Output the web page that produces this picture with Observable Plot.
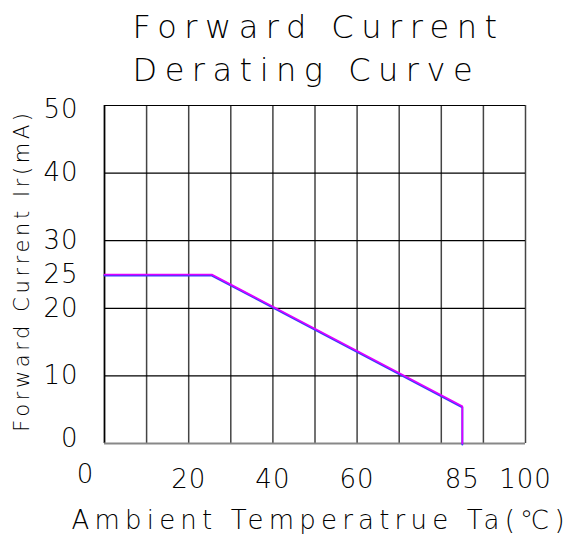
<!DOCTYPE html>
<html><head><meta charset="utf-8">
<script src="https://cdn.jsdelivr.net/npm/d3@7"></script>
<script src="https://cdn.jsdelivr.net/npm/@observablehq/plot@0.6"></script>
<style>
body{margin:0;background:#fff;}
svg text{font-family:"DejaVu Sans";font-weight:200;}
</style>
</head><body><div id="c"></div>
<script>
const temps = [0, 25.5, 85, 85];
const currents = [25, 25, 5.5, 0];
const gridX = [0,10,20,30,40,50,60,70,80,90,100];
const gridY = [0,10,20,30,40,50];
const xTicks = [20,40,60,85,100];
const yTicks = [10,20,25,30,40];
const titleLines = ["Forward Current","Derating Curve"];
const xLabel = "Ambient Temperatrue Ta(℃)";
const yLabel = "Forward Current Ir(mA)";

const pts = temps.map((t,i)=>({t, c: currents[i]}));

const chart = Plot.plot({
  width: 571, height: 536,
  marginLeft: 104, marginRight: 46, marginTop: 105, marginBottom: 93,
  x: {domain:[0,100], axis:null},
  y: {domain:[0,50], axis:null},
  marks: [
    Plot.ruleX(gridX, {x: d=>d, stroke: "#444", strokeWidth: 1.5}),
    Plot.ruleY(gridY, {y: d=>d, stroke: "#000", strokeWidth: 1.2}),
    Plot.ruleX([0], {stroke:"#000", strokeWidth:1.5}),
    Plot.ruleY([0], {stroke:"#888", strokeWidth:2}),
    Plot.line(pts, {x:"t", y:"c", stroke:"#3a3aff", strokeWidth:2, dy:1}),
    Plot.line(pts, {x:"t", y:"c", stroke:"#e000ff", strokeWidth:1.6}),
    Plot.text(yTicks, {x:0, y:d=>d, text:d=>String(d), textAnchor:"end", dx:-26, fontSize:26, fill:"#000"}),
    Plot.text([50], {x:0, y:d=>d, text:d=>String(d), textAnchor:"end", dx:-26, dy:4, fontSize:26, fill:"#000"}),
    Plot.text([0], {x:0, y:d=>d, text:d=>String(d), textAnchor:"end", dx:-26, dy:-5, fontSize:26, fill:"#000"}),
    Plot.text(xTicks, {x:d=>d, y:0, text:d=>String(d), dy:36, fontSize:26, fill:"#000"}),
    Plot.text([0], {x:0, y:0, text:d=>String(d), dx:-19, dy:31, fontSize:26, fill:"#000"}),
    Plot.text([titleLines[0]], {frameAnchor:"top-left", text:d=>d, dx:28, dy:-90, fontSize:32, textAnchor:"start", fill:"#000"}),
    Plot.text([titleLines[1]], {frameAnchor:"top-left", text:d=>d, dx:28, dy:-47, fontSize:32, textAnchor:"start", fill:"#000"}),
    Plot.text([xLabel], {frameAnchor:"bottom-left", text:d=>d, dx:-33, dy:85, fontSize:26, textAnchor:"start", fill:"#000"}),
    Plot.text([yLabel], {frameAnchor:"left", text:d=>d, dx:-82, dy:-4, fontSize:21, rotate:-90, textAnchor:"middle", fill:"#000"})
  ]
});
document.getElementById("c").appendChild(chart);
const texts = chart.querySelectorAll("text");
texts.forEach(t=>{
  const s = t.textContent;
  if (s===titleLines[0]||s===titleLines[1]) t.setAttribute("letter-spacing","7.5");
  else if (s===xLabel) t.setAttribute("letter-spacing","5.2");
  else if (s===yLabel) t.setAttribute("letter-spacing","3.6");
  else t.setAttribute("letter-spacing","1");
});
</script></body></html>
